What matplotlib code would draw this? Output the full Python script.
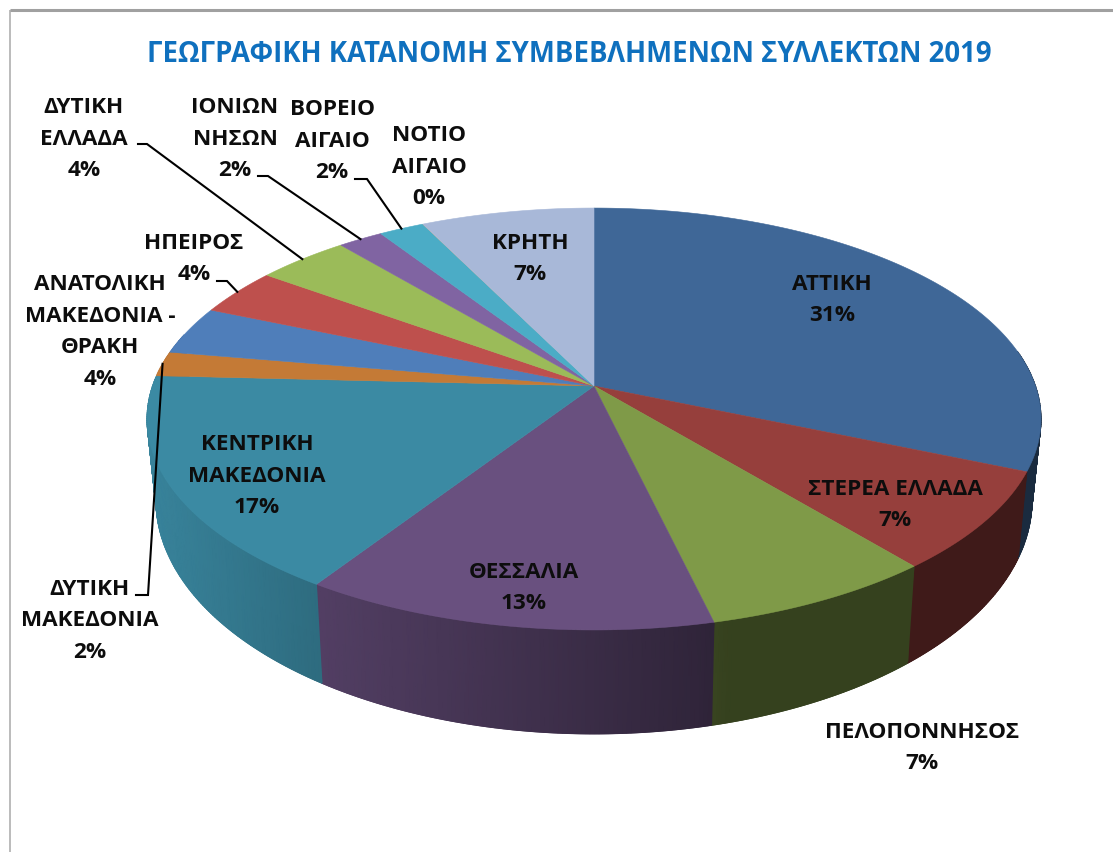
import numpy as np
import matplotlib
matplotlib.use("Agg")
import matplotlib.pyplot as plt
from matplotlib.colors import LinearSegmentedColormap
from matplotlib.collections import LineCollection

TITLE = "ΓΕΩΓΡΑΦΙΚΗ ΚΑΤΑΝΟΜΗ ΣΥΜΒΕΒΛΗΜΕΝΩΝ ΣΥΛΛΕΚΤΩΝ 2019"
regions = ["ΑΤΤΙΚΗ", "ΣΤΕΡΕΑ ΕΛΛΑΔΑ", "ΠΕΛΟΠΟΝΝΗΣΟΣ", "ΘΕΣΣΑΛΙΑ", "ΚΕΝΤΡΙΚΗ\nΜΑΚΕΔΟΝΙΑ",
           "ΔΥΤΙΚΗ\nΜΑΚΕΔΟΝΙΑ", "ΑΝΑΤΟΛΙΚΗ\nΜΑΚΕΔΟΝΙΑ -\nΘΡΑΚΗ", "ΗΠΕΙΡΟΣ", "ΔΥΤΙΚΗ\nΕΛΛΑΔΑ",
           "ΙΟΝΙΩΝ\nΝΗΣΩΝ", "ΒΟΡΕΙΟ\nΑΙΓΑΙΟ", "ΝΟΤΙΟ\nΑΙΓΑΙΟ", "ΚΡΗΤΗ"]
shares = [31.4, 7.6, 7.3, 12.9, 16.6, 1.9, 3.7, 3.6, 3.9, 1.9, 1.9, 0.02, 7.28]
printed_pct = [31, 7, 7, 13, 17, 2, 4, 4, 4, 2, 2, 0, 7]

colors = ["#3F6797", "#963F3C", "#7F9A48", "#69507F", "#3B8AA3", "#C47A36", "#4F7EBA",
          "#BE504D", "#9BBB59", "#8064A2", "#4BACC6", "#F79646", "#A8B8D8"]
label_xy = [(832, 300), (895, 505), (922, 748), (524, 588), (257, 476), (90, 621), (100, 332),
            (194, 259), (84, 139), (235, 139), (332, 141), (429, 167), (530, 259)]
leader_from = {5: [(136, 596), (148, 596)], 7: [(217, 282), (227, 282)], 8: [(138, 145), (147, 145)],
               9: [(258, 177), (268, 177)], 10: [(355, 180), (367, 180)]}

# projection of the tilted disc onto the picture
CX, CY, S, K, A = 594.0, 387.0, 205.8, 0.1564, 441.5
BOT_CY, BOT_SX, BOT_SY = 464.0, 0.98, 1.11


def top(theta):
    """theta: clockwise from 12 o'clock, radians."""
    x, y = np.sin(theta), np.cos(theta)
    w = 1 + K * y
    return CX + A * x / w, CY - S * y / w


def bottom(theta):
    x, y = top(theta)
    return CX + (x - CX) * BOT_SX, BOT_CY + (y - CY) * BOT_SY


def shade_factor(x):
    return np.interp(x, [150, 320, 700, 730], [0.95, 0.78, 0.46, 0.42])


fig = plt.figure(figsize=(11.13, 8.53), dpi=100)
ax = fig.add_axes([0, 0, 1, 1])
ax.set_xlim(0, 1113)
ax.set_ylim(853, 0)
ax.axis("off")

ax.plot([10, 10], [11, 853], color="#A8A8A8", lw=1.1, solid_capstyle="butt")
ax.plot([10, 1113], [11, 11], color="#A0A0A0", lw=2.2, solid_capstyle="butt")

fracs = np.array(shares) / np.sum(shares)
edges = np.concatenate([[0], np.cumsum(fracs)]) * 2 * np.pi

# walls: only the part facing the viewer, smoothly shaded left to right
for i, c in enumerate(colors):
    lo_v, hi_v = max(edges[i], np.radians(80)), min(edges[i + 1], np.radians(285))
    if hi_v <= lo_v:
        continue
    ts = np.linspace(lo_v, hi_v, max(3, int(np.degrees(hi_v - lo_v) * 2)))
    xt, yt = top(ts)
    xb, yb = bottom(ts)
    cmap = LinearSegmentedColormap.from_list("w", ["black", c])
    X = np.vstack([xt, xb])
    Y = np.vstack([yt, yb])
    # soft edge underneath, mesh on top
    ax.fill(np.r_[xt, xb[::-1]], np.r_[yt, yb[::-1]], color=cmap(float(shade_factor(X.mean()))), lw=0, zorder=2)
    ax.pcolormesh(X, Y, shade_factor(X), cmap=cmap, vmin=0, vmax=1, shading="gouraud", zorder=2.1)
    pts = np.column_stack([xb, yb])
    segs = np.stack([pts[:-1], pts[1:]], axis=1)
    ax.add_collection(LineCollection(segs, colors=cmap(shade_factor((xb[:-1] + xb[1:]) / 2)), linewidths=0.9, zorder=2.2))

# top faces
for i, c in enumerate(colors):
    t = np.linspace(edges[i], edges[i + 1], max(3, int(np.degrees(edges[i + 1] - edges[i]) * 2)))
    x, y = top(t)
    ax.fill(np.r_[CX, x], np.r_[CY, y], color=c, lw=0.4 if shares[i] > 0.5 else 0, zorder=3)

# labels and leaders
FP = dict(family=["Open Sans", "DejaVu Sans"], fontweight="bold", color="#0D0D0D")
for i, name in enumerate(regions):
    lx, ly = label_xy[i]
    ax.text(lx, ly, f"{name}\n{printed_pct[i]}%", ha="center", va="center", fontsize=16.2,
            linespacing=1.66, zorder=6, **FP)
    if i in leader_from:
        mid = (edges[i] + edges[i + 1]) / 2
        ex, ey = top(mid)
        pts = leader_from[i] + [(float(ex), float(ey))]
        ax.plot(*zip(*pts), color="black", lw=1.5, zorder=5, solid_joinstyle="miter")

ax.text(569, 54, TITLE, ha="center", va="center", fontsize=19.8, fontweight="bold",
        family=["Open Sans", "DejaVu Sans"], color="#0F70BE", zorder=6)

fig.savefig("out.png", dpi=100)
